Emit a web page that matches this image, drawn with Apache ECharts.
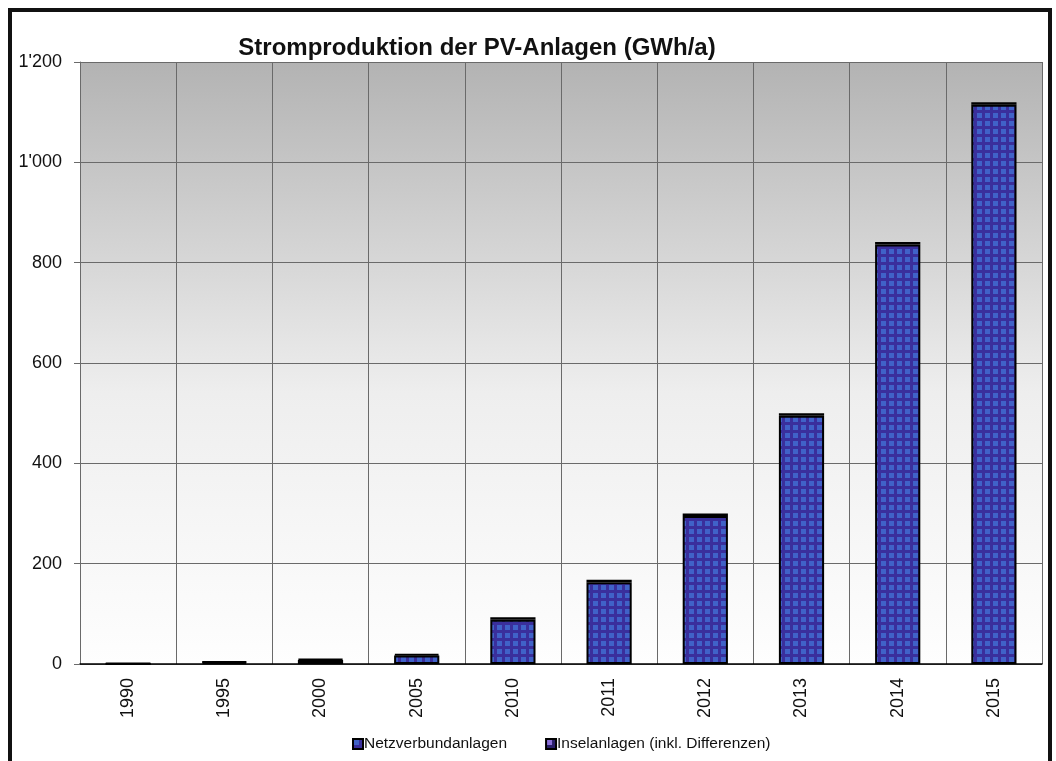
<!DOCTYPE html>
<html>
<head>
<meta charset="utf-8">
<script src="https://cdn.jsdelivr.net/npm/echarts@6/dist/echarts.min.js"></script>
<style>
  html, body { margin: 0; padding: 0; background: #fff; }
  #chart { width: 1056px; height: 761px; }
</style>
</head>
<body>
<div id="chart"></div>
<script>
const years = ['1990', '1995', '2000', '2005', '2010', '2011', '2012', '2013', '2014', '2015'];
const netzverbund = [0.3, 3, 8, 17, 88, 163, 295, 495, 836, 1115];
const insel = [1, 2, 2, 3, 5, 5, 5, 5, 5, 5];
const yTicks = [0, 200, 400, 600, 800, 1000, 1200];

function makePattern(line, cell) {
  const c = document.createElement('canvas');
  c.width = 8; c.height = 8;
  const ctx = c.getContext('2d');
  ctx.fillStyle = line;
  ctx.fillRect(0, 0, 8, 8);
  ctx.fillStyle = cell;
  ctx.fillRect(1, 1, 5, 5);
  return { image: c, repeat: 'repeat' };
}

const netzFill = makePattern('#3a2f9c', '#4062c8');
const inselFill = makePattern('#2a1f6a', '#8a6fd8');

const chart = echarts.init(document.getElementById('chart'));

chart.setOption({
  animation: false,
  backgroundColor: '#fff',
  title: {
    text: 'Stromproduktion der PV-Anlagen (GWh/a)',
    left: 472,
    top: 31,
    textAlign: 'center',
    textStyle: { fontFamily: 'Liberation Sans, Arial', fontSize: 24, fontWeight: 'bold', color: '#111' }
  },
  graphic: [{
    type: 'rect',
    shape: { x: 10, y: 10, width: 1040, height: 800 },
    style: { fill: 'none', stroke: '#111', lineWidth: 4 },
    z: 100
  }],
  legend: {
    top: 731,
    left: 347,
    itemWidth: 10,
    itemHeight: 10,
    itemGap: 38,
    icon: 'rect',
    textStyle: { fontFamily: 'Liberation Sans, Arial', fontSize: 15.5, color: '#111', padding: [0, 0, 0, -4] },
    data: ['Netzverbundanlagen', 'Inselanlagen (inkl. Differenzen)']
  },
  grid: {
    left: 80,
    right: 14,
    top: 62,
    bottom: 97,
    show: true,
    borderWidth: 0,
    backgroundColor: {
      type: 'linear', x: 0, y: 0, x2: 0, y2: 1,
      colorStops: [
        { offset: 0, color: '#b3b3b3' },
        { offset: 0.55, color: '#eeeeee' },
        { offset: 1, color: '#fefefe' }
      ]
    }
  },
  xAxis: {
    type: 'category',
    data: years,
    boundaryGap: true,
    axisLine: { lineStyle: { color: '#000', width: 1.5 } },
    axisTick: { show: false },
    splitLine: { show: true, lineStyle: { color: '#6a6a6a', width: 1 } },
    axisLabel: {
      rotate: 90,
      margin: 14,
      interval: 0,
      fontFamily: 'Liberation Sans, Arial',
      fontSize: 18,
      color: '#111'
    }
  },
  yAxis: {
    type: 'value',
    min: yTicks[0],
    max: yTicks[yTicks.length - 1],
    interval: 200,
    axisLine: { show: true, lineStyle: { color: '#6a6a6a', width: 1 } },
    axisTick: { show: true, length: 6, lineStyle: { color: '#6a6a6a' } },
    splitLine: { show: true, lineStyle: { color: '#6a6a6a', width: 1 } },
    axisLabel: {
      margin: 18,
      fontFamily: 'Liberation Sans, Arial',
      fontSize: 18,
      color: '#111',
      formatter: v => v >= 1000 ? Math.floor(v / 1000) + "'" + String(v % 1000).padStart(3, '0') : String(v)
    }
  },
  series: [
    {
      name: 'Netzverbundanlagen',
      type: 'bar',
      stack: 'pv',
      barWidth: '47%',
      data: netzverbund,
      itemStyle: { color: netzFill, borderColor: '#000', borderWidth: 2 }
    },
    {
      name: 'Inselanlagen (inkl. Differenzen)',
      type: 'bar',
      stack: 'pv',
      barWidth: '47%',
      data: insel,
      itemStyle: { color: inselFill, borderColor: '#000', borderWidth: 2 }
    }
  ]
});
</script>
</body>
</html>
